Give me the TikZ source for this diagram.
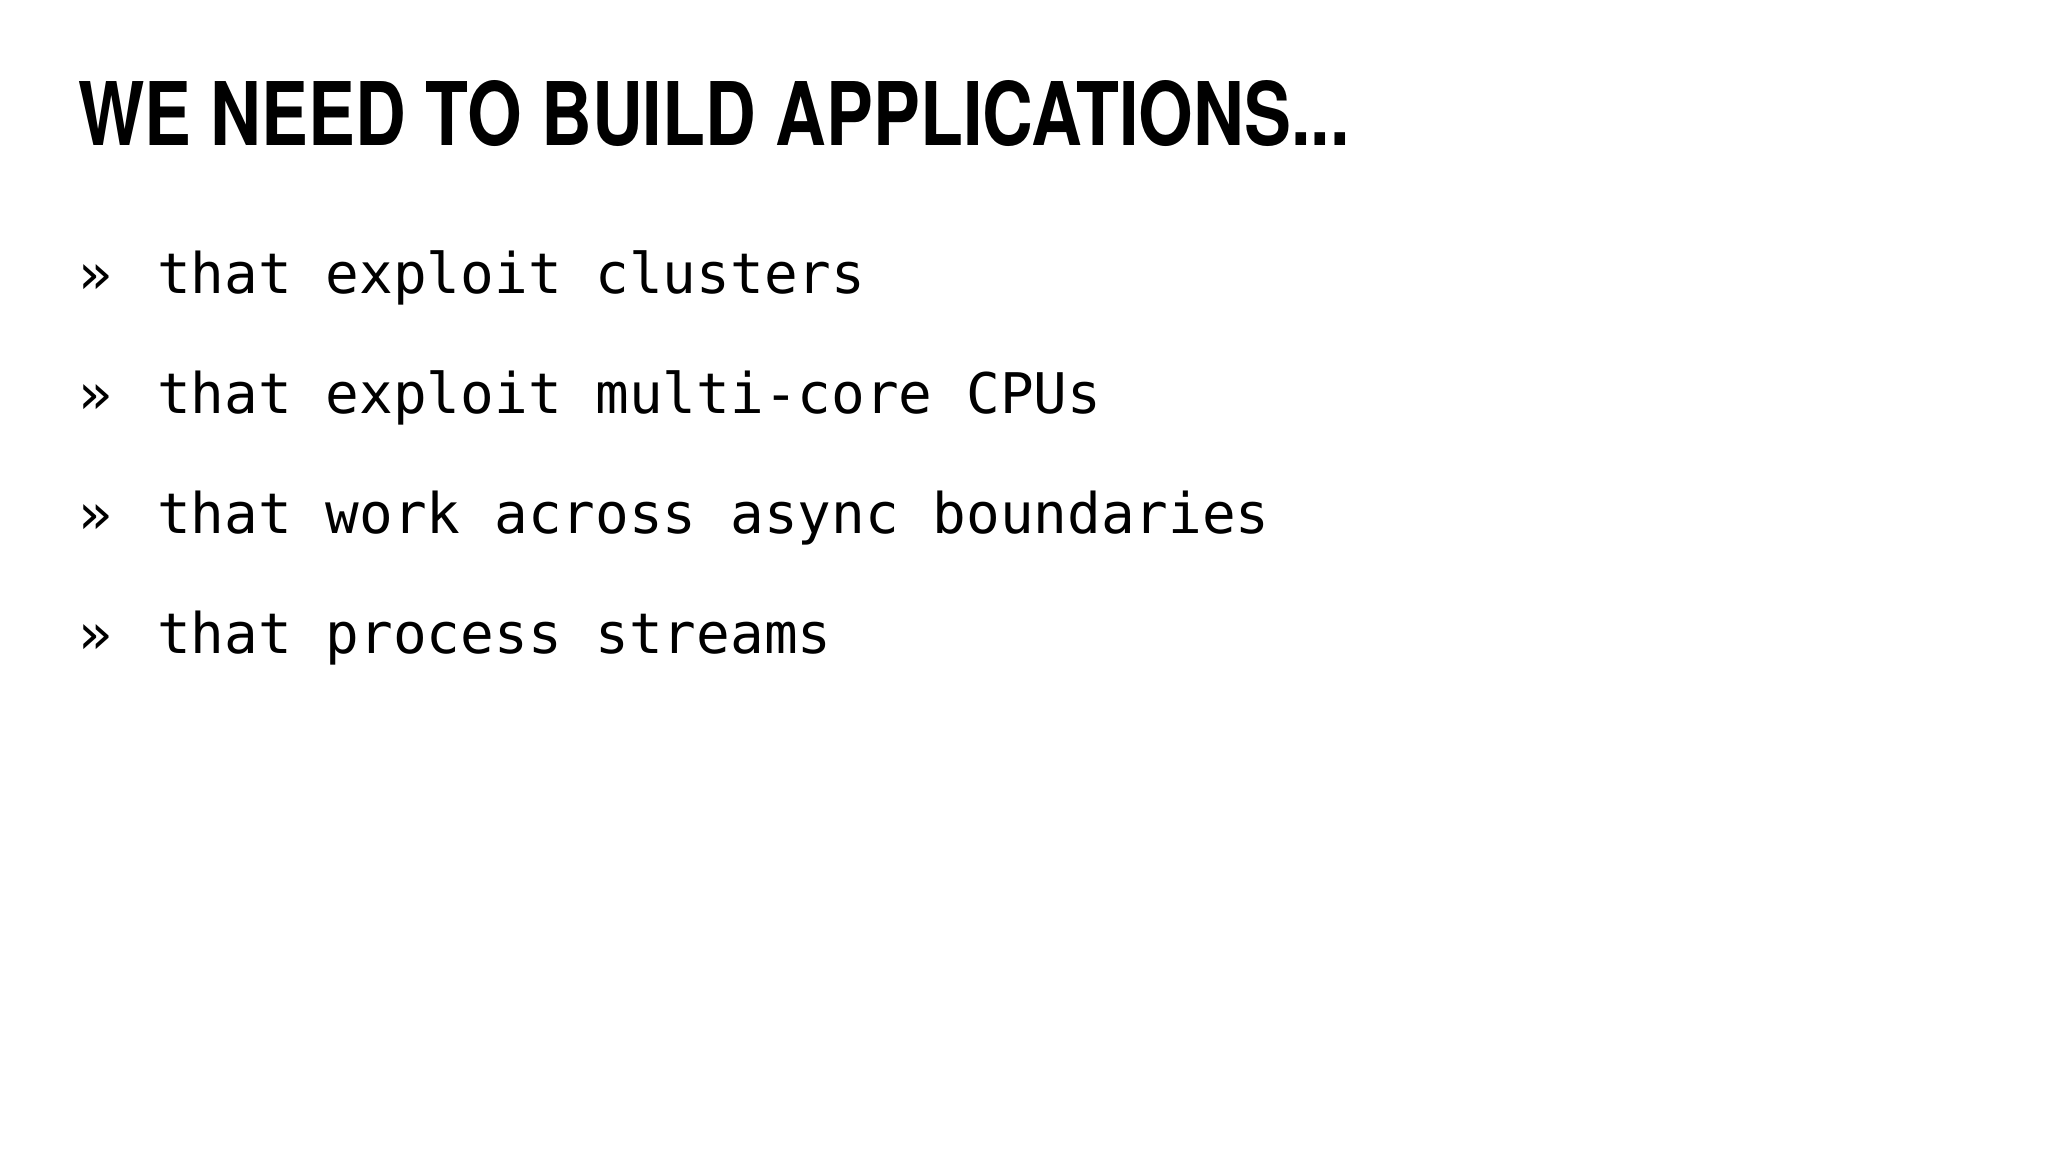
\documentclass[tikz,border=0pt]{standalone}
\usepackage{fontspec}
\usepackage{graphicx}
\newfontfamily\titlefont{TeX Gyre Heros}
\newfontfamily\monofont{DejaVu Sans Mono}
\begin{document}
\begin{tikzpicture}[x=1pt,y=1pt,
  bul/.style={anchor=base west,inner sep=0pt,font=\monofont\fontsize{56}{60}\selectfont}]
\useasboundingbox[fill=white] (0,0) rectangle (2048,1152);
\node[anchor=base west,inner sep=0pt] (title) at (78,1006)
  {\resizebox{1271pt}{65pt}{\titlefont\bfseries WE NEED TO BUILD APPLICATIONS...}};
\foreach \i/\t in {1/that exploit clusters,2/that exploit multi-core CPUs,3/that work across async boundaries,4/that process streams}{
  \node[bul] (m\i) at (78,{1152-294-120*(\i-1)}) {»};
  \node[bul] (b\i) at (157,{1152-294-120*(\i-1)}) {\t};
}
\end{tikzpicture}
\end{document}
